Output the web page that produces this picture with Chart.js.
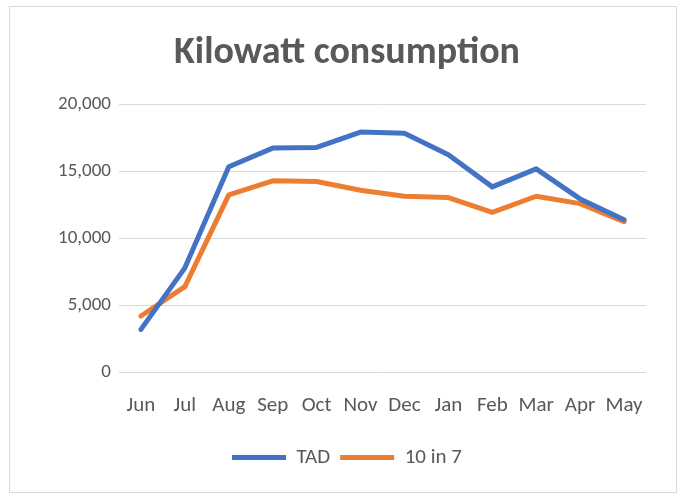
<!DOCTYPE html>
<html>
<head>
<meta charset="utf-8">
<script src="https://cdn.jsdelivr.net/npm/chart.js@4.4.0/dist/chart.umd.min.js"></script>
<style>
html,body{margin:0;padding:0;background:#fff;}
#wrap{position:relative;width:683px;height:495px;}
</style>
</head>
<body>
<div id="wrap"><canvas id="c" width="683" height="495"></canvas></div>
<script>
const months = ["Jun","Jul","Aug","Sep","Oct","Nov","Dec","Jan","Feb","Mar","Apr","May"];
const tadValues = [3200, 7800, 15350, 16750, 16800, 17950, 17850, 16250, 13850, 15200, 12950, 11400];
const tenInSevenValues = [4200, 6400, 13250, 14300, 14250, 13600, 13150, 13050, 11950, 13150, 12600, 11250];
const seriesNames = ["TAD", "10 in 7"];
const titleText = "Kilowatt consumption";

const FONT = "Carlito, Calibri, Lato, 'Open Sans', sans-serif";
const GREY = "#595959";

const frame = {
  id: 'frame',
  beforeDraw(chart) {
    const ctx = chart.ctx;
    ctx.save();
    ctx.fillStyle = '#fff';
    ctx.fillRect(0, 0, chart.width, chart.height);
    ctx.strokeStyle = '#d9d9d9';
    ctx.lineWidth = 1;
    ctx.strokeRect(9.5, 6.5, 667, 486);
    ctx.restore();
  }
};

new Chart(document.getElementById('c'), {
  type: 'line',
  data: {
    labels: months,
    datasets: [
      { label: seriesNames[0], data: tadValues, borderColor: '#4472C4', backgroundColor: '#4472C4',
        borderWidth: 5, pointRadius: 0, pointHoverRadius: 0, tension: 0, borderCapStyle: 'round', borderJoinStyle: 'round' },
      { label: seriesNames[1], data: tenInSevenValues, borderColor: '#ED7D31', backgroundColor: '#ED7D31',
        borderWidth: 5, pointRadius: 0, pointHoverRadius: 0, tension: 0, borderCapStyle: 'round', borderJoinStyle: 'round' }
    ]
  },
  options: {
    responsive: false,
    animation: false,
    devicePixelRatio: 1,
    layout: { padding: { left: 48, right: 37, top: 20, bottom: 17 } },
    plugins: {
      title: { display: true, text: titleText, color: GREY,
        font: { family: FONT, size: 38, weight: 'bold' }, padding: { top: 11, bottom: 28 } },
      legend: { display: true, position: 'bottom',
        labels: { color: GREY, font: { family: FONT, size: 21 }, usePointStyle: true, pointStyle: 'line',
          pointStyleWidth: 54, boxHeight: 19, padding: 10 } },
      tooltip: { enabled: false }
    },
    scales: {
      x: {
        offset: true,
        grid: { display: false },
        border: { display: false },
        ticks: { color: GREY, font: { family: FONT, size: 21 }, padding: 13, maxRotation: 0, autoSkip: false },
        afterFit(scale) { scale.height = 64.8; }
      },
      y: {
        min: 0, max: 20000,
        grid: { color: '#d9d9d9', lineWidth: 1, drawTicks: false },
        border: { display: false },
        ticks: { stepSize: 5000, color: GREY, font: { family: FONT, size: 19 }, padding: 8,
          callback: v => v.toLocaleString('en-US') },
        afterFit(scale) { scale.width = 71; }
      }
    }
  },
  plugins: [frame]
});
</script>
</body>
</html>
